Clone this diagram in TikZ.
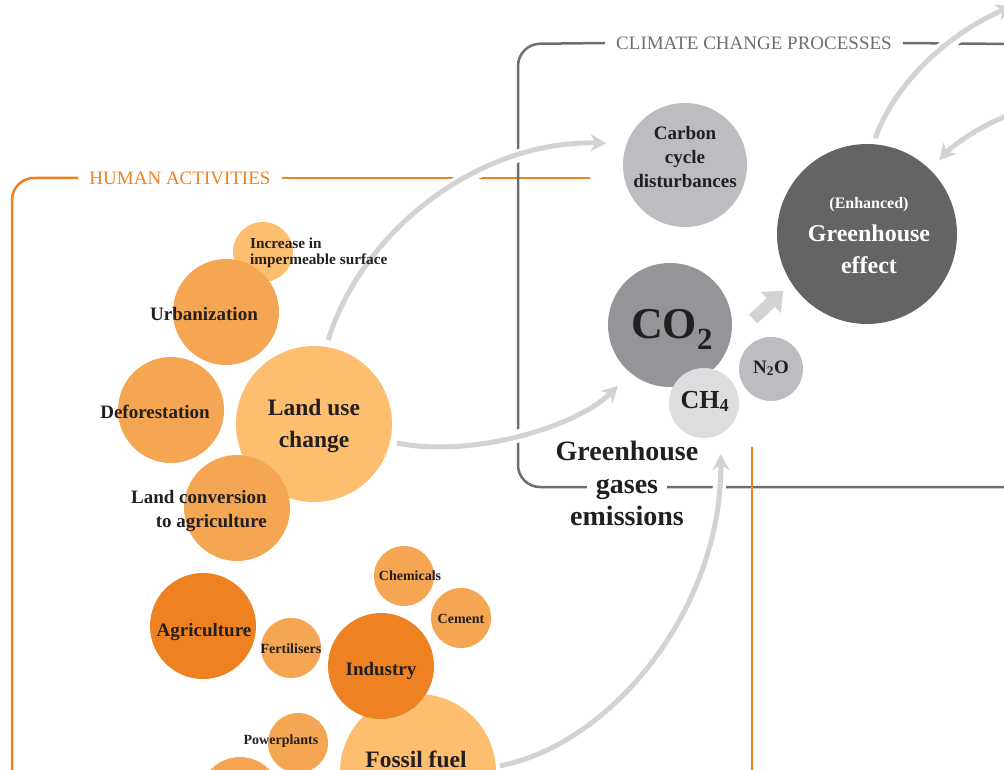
\documentclass[tikz,border=0pt]{standalone}
\usepackage{fontspec}
\setmainfont{Liberation Serif}
\usetikzlibrary{arrows.meta}

\definecolor{inkdark}{HTML}{231F20}
\definecolor{paleorange}{HTML}{FDBF6F}
\definecolor{midorange}{HTML}{F4A652}
\definecolor{deeporange}{HTML}{EE8121}
\definecolor{frameorange}{HTML}{EE8122}
\definecolor{framegrey}{HTML}{6D6E70}
\definecolor{carbongrey}{HTML}{BCBDC0}
\definecolor{ghgrey}{HTML}{646466}
\definecolor{cotwogrey}{HTML}{939598}
\definecolor{chfourgrey}{HTML}{DCDDDE}
\definecolor{ntwogrey}{HTML}{BCBDC0}
\definecolor{flowgrey}{HTML}{D1D3D4}

\pgfdeclarelayer{frames}
\pgfdeclarelayer{flows}
\pgfsetlayers{frames,flows,main}

\newcommand{\lblsize}[2]{\fontsize{#1}{#2}\selectfont}

\begin{document}
\begin{tikzpicture}[x=1pt,y=-1pt,
  bubble/.style={circle,inner sep=0pt,minimum size=#1},
  lbl/.style={text=inkdark,inner sep=0pt,anchor=base,align=center},
  lblS/.style={lbl,font=\bfseries\lblsize{14}{16}},
  lblM/.style={lbl,font=\bfseries\lblsize{19}{24}},
  lblL/.style={lbl,font=\bfseries\lblsize{23.5}{32}},
  frametitle/.style={inner xsep=11pt,inner ysep=0pt,font=\lblsize{19}{19}},
  haframe/.style={draw=frameorange,line width=2.5pt},
  ccframe/.style={draw=framegrey,line width=2.5pt},
  flow/.style={draw=flowgrey,line width=5pt,-{Stealth[length=16pt,width=17pt,inset=5pt]},
    preaction={draw=white,line width=13pt,-}},
  fatflow/.style={draw=flowgrey,line width=12pt,-{Triangle[length=17pt,width=28pt]}}]
\useasboundingbox (0,0) rectangle (1004,770);

\node[frametitle,text=frameorange] (hatitle) at (180,178) {HUMAN ACTIVITIES};
\node[frametitle,text=framegrey] (cctitle) at (754,43) {CLIMATE CHANGE PROCESSES};

\node[bubble=60,fill=paleorange] (imperm) at (263,252) {};
\node[bubble=106,fill=midorange] (urban) at (226,312) {};
\node[bubble=106,fill=midorange] (defor) at (171,410) {};
\node[bubble=156,fill=paleorange] (landuse) at (314,424) {};
\node[bubble=106,fill=midorange] (landconv) at (237,508) {};
\node[bubble=106,fill=deeporange] (agri) at (203,626) {};
\node[bubble=60,fill=midorange] (fert) at (291,648) {};
\node[bubble=156,fill=paleorange] (fossil) at (418,772) {};
\node[bubble=106,fill=deeporange] (industry) at (381,666) {};
\node[bubble=60,fill=midorange] (chem) at (404,576) {};
\node[bubble=60,fill=midorange] (cement) at (461,618) {};
\node[bubble=60,fill=midorange] (power) at (298,743) {};
\node[bubble=80,fill=midorange] (fuelother) at (240,797) {};

\node[bubble=124,fill=carbongrey] (carbon) at (685,165) {};
\node[bubble=180,fill=ghgrey] (gh) at (867,234) {};
\node[bubble=124,fill=cotwogrey] (co2) at (670,325) {};
\node[bubble=70,fill=chfourgrey] (ch4) at (704,403) {};
\node[bubble=64,fill=ntwogrey] (n2o) at (771,369) {};

\node[lbl,font=\bfseries\lblsize{15.3}{16},align=left,anchor=base west] (impermlbl) at (250,264) {Increase in\\impermeable surface};
\node[lblM] (urbanlbl) at (204,320) {Urbanization};
\node[lblM] (deforlbl) at (155,418) {Deforestation};
\node[lblL] (landuselbl) at (314,447) {Land use\\change};
\node[lblM,align=right,anchor=base east] (landconvlbl) at (267,527) {Land conversion\\to agriculture};
\node[lblM] (agrilbl) at (204,636) {Agriculture};
\node[lblS] (fertlbl) at (291,653) {Fertilisers};
\node[lblM] (industrylbl) at (381,675) {Industry};
\node[lblS] (chemlbl) at (410,580) {Chemicals};
\node[lblS] (cementlbl) at (461,623) {Cement};
\node[lblS] (powerlbl) at (281,744) {Powerplants};
\node[lblL] (fossillbl) at (416,767) {Fossil fuel};

\node[lblM] (carbonlbl) at (685,188) {Carbon\\cycle\\disturbances};
\node[lbl,text=white,font=\bfseries\lblsize{16}{16}] (enhlbl) at (869,209) {(Enhanced)};
\node[lbl,text=white,font=\bfseries\lblsize{24}{32}] (ghlbl) at (869,273) {Greenhouse\\effect};
\node[lbl,font=\bfseries\lblsize{44}{44}] (co2lbl) at (672,338) {CO\textsubscript{2}};
\node[lbl,font=\bfseries\lblsize{26}{26}] (ch4lbl) at (705,408) {CH\textsubscript{4}};
\node[lbl,font=\bfseries\lblsize{19}{19}] (n2olbl) at (771,373) {N\textsubscript{2}O};

\node[lbl,font=\bfseries\lblsize{28}{28}] (ghgA) at (627,460) {Greenhouse};
\node[lbl,font=\bfseries\lblsize{28}{28},fill=white,inner xsep=9pt,inner ysep=1pt] (ghgB) at (627,493) {gases};
\node[lbl,font=\bfseries\lblsize{28}{28}] (ghgC) at (627,525) {emissions};

\coordinate (ghout) at (1012,6);
\coordinate (feedin) at (1012,114);

\begin{pgfonlayer}{frames}
\draw[haframe,rounded corners=22pt] (hatitle.west) -- (12,178) -- (12,790);
\draw[haframe] (hatitle.east) -- (590,178);
\draw[ccframe,rounded corners=22pt] (cctitle.west) -- (518,44) -- (518,487) -- (1012,487);
\draw[ccframe] (cctitle.east) -- (1012,44);
\draw[haframe] (752,447) -- (752,790);
\end{pgfonlayer}

\begin{pgfonlayer}{flows}
\draw[flow,shorten <=7pt,shorten >=20pt] (landuse.81) .. controls (360,235) and (475,140) .. (carbon.160);
\draw[flow,shorten <=7pt,shorten >=18pt] (landuse.-13) .. controls (470,458) and (575,428) .. (co2.231);
\draw[flow,shorten <=4pt,shorten >=20pt] (fossil.4) .. controls (610,745) and (722,610) .. (ch4.-62);
\draw[flow,shorten <=6pt] (gh.86) .. controls (890,95) and (935,40) .. (ghout);
\draw[flow,shorten >=13pt] (feedin) .. controls (980,125) and (950,148) .. (gh.45);
\draw[fatflow] ([shift={(21,-6)}]co2.east) -- ([shift={(-20,-7)}]gh.225);
\end{pgfonlayer}
\end{tikzpicture}
\end{document}
